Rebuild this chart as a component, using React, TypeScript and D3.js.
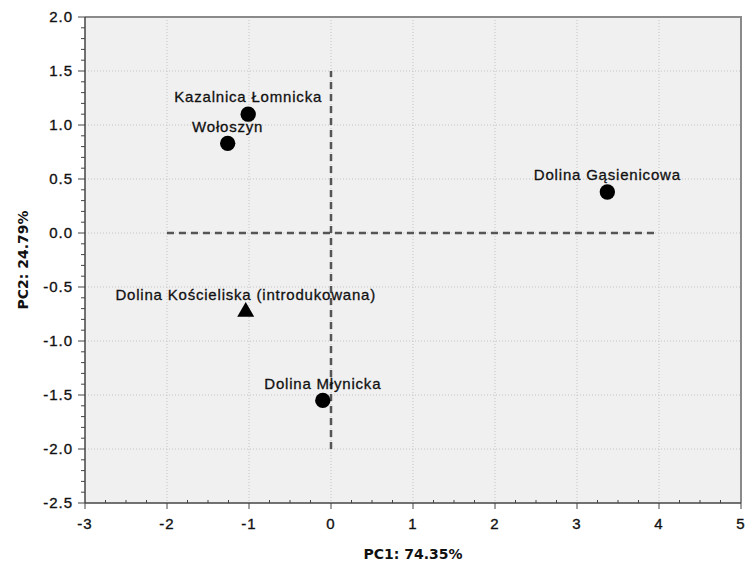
import { useRef, useEffect } from "react"
import * as d3 from "d3"

// PCA scores
const sites = [
  "Kazalnica Łomnicka",
  "Wołoszyn",
  "Dolina Gąsienicowa",
  "Dolina Kościeliska (introdukowana)",
  "Dolina Młynicka",
]
const pc1 = [-1.01, -1.26, 3.37, -1.04, -0.1]
const pc2 = [1.1, 0.83, 0.38, -0.73, -1.55]
const markers = ["circle", "circle", "circle", "triangle", "circle"]

const xTicks = [-3, -2, -1, 0, 1, 2, 3, 4, 5]
const yTicks = [-2.5, -2, -1.5, -1, -0.5, 0, 0.5, 1, 1.5, 2]

// reference cross
const hLine = { x: [-2, 4], y: 0 }
const vLine = { x: 0, y: [-2, 1.5] }

const xTitle = "PC1: 74.35%"
const yTitle = "PC2: 24.79%"

const W = 747
const H = 566

export default function App() {
  const svgRef = useRef<SVGSVGElement>(null)

  useEffect(() => {
    const svg = d3.select(svgRef.current)
    svg.selectAll("*").remove()

    const x = d3.scaleLinear().domain([-3, 5]).range([85, 741])
    const y = d3.scaleLinear().domain([-2.5, 2]).range([503, 17])
    const [x0, x1] = x.range()
    const [y0, y1] = y.range()

    svg.append("rect").attr("width", W).attr("height", H).attr("fill", "#fff")

    // plot background
    svg
      .append("rect")
      .attr("x", x0)
      .attr("y", y1)
      .attr("width", x1 - x0)
      .attr("height", y0 - y1)
      .attr("fill", "#f0f0f0")

    // dotted grid
    const grid = svg.append("g").attr("stroke", "#c4c4c4").attr("stroke-width", 1).attr("stroke-dasharray", "1,2")
    xTicks.slice(1, -1).forEach((t) => {
      grid.append("line").attr("x1", x(t)).attr("x2", x(t)).attr("y1", y1).attr("y2", y0)
    })
    yTicks.slice(1, -1).forEach((t) => {
      grid.append("line").attr("x1", x0).attr("x2", x1).attr("y1", y(t)).attr("y2", y(t))
    })

    // frame top / right
    svg
      .append("path")
      .attr("d", `M${x0},${y1}H${x1}V${y0}`)
      .attr("fill", "none")
      .attr("stroke", "#8a8a8a")
      .attr("stroke-width", 2)

    // dashed cross
    const dash = svg.append("g").attr("stroke", "#555").attr("stroke-width", 2.5).attr("stroke-dasharray", "7,5")
    dash
      .append("line")
      .attr("x1", x(hLine.x[0]))
      .attr("x2", x(hLine.x[1]))
      .attr("y1", y(hLine.y))
      .attr("y2", y(hLine.y))
    dash
      .append("line")
      .attr("x1", x(vLine.x))
      .attr("x2", x(vLine.x))
      .attr("y1", y(vLine.y[0]))
      .attr("y2", y(vLine.y[1]))

    // axes
    const axisColor = "#444"
    const ax = svg.append("g").attr("stroke", axisColor).attr("stroke-width", 1.5)
    ax.append("line").attr("x1", x0).attr("x2", x0).attr("y1", y1).attr("y2", y0)
    ax.append("line").attr("x1", x0).attr("x2", x1).attr("y1", y0).attr("y2", y0)

    // x ticks: majors down, minors (0.25) up
    const ticks = svg.append("g").attr("stroke", axisColor).attr("stroke-width", 1)
    d3.range(-3, 5.001, 0.25).forEach((t) => {
      const major = Math.abs(t - Math.round(t)) < 1e-6
      ticks
        .append("line")
        .attr("x1", x(t))
        .attr("x2", x(t))
        .attr("y1", y0)
        .attr("y2", major ? y0 + 6 : y0 - 3)
    })
    // y ticks: majors long, minors (0.1) short, both outside
    d3.range(-2.5, 2.001, 0.1).forEach((t) => {
      const major = Math.abs(t * 2 - Math.round(t * 2)) < 1e-6
      ticks
        .append("line")
        .attr("x1", x0)
        .attr("x2", major ? x0 - 7 : x0 - 4)
        .attr("y1", y(t))
        .attr("y2", y(t))
    })

    const font = "'Liberation Sans', Arial, sans-serif"

    svg
      .append("g")
      .selectAll("text")
      .data(xTicks)
      .enter()
      .append("text")
      .attr("x", (d) => x(d))
      .attr("y", y0 + 26)
      .attr("text-anchor", "middle")
      .style("font-family", font)
      .style("font-size", "15px")
      .style("letter-spacing", "1px")
      .attr("fill", "#111")
      .attr("stroke", "#111")
      .attr("stroke-width", 0.35)
      .text((d) => String(d))

    svg
      .append("g")
      .selectAll("text")
      .data(yTicks)
      .enter()
      .append("text")
      .attr("x", x0 - 12)
      .attr("y", (d) => y(d))
      .attr("dy", "0.35em")
      .attr("text-anchor", "end")
      .style("font-family", font)
      .style("font-size", "15px")
      .style("letter-spacing", "1px")
      .attr("fill", "#111")
      .attr("stroke", "#111")
      .attr("stroke-width", 0.35)
      .text((d) => d.toFixed(1))

    // axis titles
    svg
      .append("text")
      .attr("x", (x0 + x1) / 2)
      .attr("y", 559)
      .attr("text-anchor", "middle")
      .style("font-family", "'DejaVu Sans', sans-serif")
      .style("font-weight", "bold")
      .style("font-size", "14px")
      .attr("fill", "#111")
      .text(xTitle)

    svg
      .append("text")
      .attr("transform", `translate(28,${(y0 + y1) / 2}) rotate(-90)`)
      .attr("text-anchor", "middle")
      .style("font-family", "'DejaVu Sans', sans-serif")
      .style("font-weight", "bold")
      .style("font-size", "14px")
      .attr("fill", "#111")
      .text(yTitle)

    // points
    const pts = sites.map((s, i) => ({ name: s, x: pc1[i], y: pc2[i], m: markers[i] }))
    const g = svg.append("g")
    g.selectAll("path.pt")
      .data(pts)
      .enter()
      .append("path")
      .attr("class", "pt")
      .attr("transform", (d) => `translate(${x(d.x)},${y(d.y)})`)
      .attr("d", (d) =>
        d3.symbol().type(d.m === "triangle" ? d3.symbolTriangle : d3.symbolCircle).size(d.m === "triangle" ? 125 : 185)()
      )
      .attr("fill", "#000")

    g.selectAll("text.lbl")
      .data(pts)
      .enter()
      .append("text")
      .attr("class", "lbl")
      .attr("x", (d) => x(d.x))
      .attr("y", (d) => y(d.y) - 17)
      .attr("dy", "0.35em")
      .attr("text-anchor", "middle")
      .style("font-family", font)
      .style("font-size", "15px")
      .style("letter-spacing", "0.8px")
      .attr("fill", "#111")
      .attr("stroke", "#111")
      .attr("stroke-width", 0.3)
      .text((d) => d.name)
  }, [])

  return (
    <div>
      <svg
        ref={svgRef}
        width={W}
        height={H}
        style={{ position: "absolute", left: 0, top: 0, display: "block" }}
      ></svg>
    </div>
  )
}
